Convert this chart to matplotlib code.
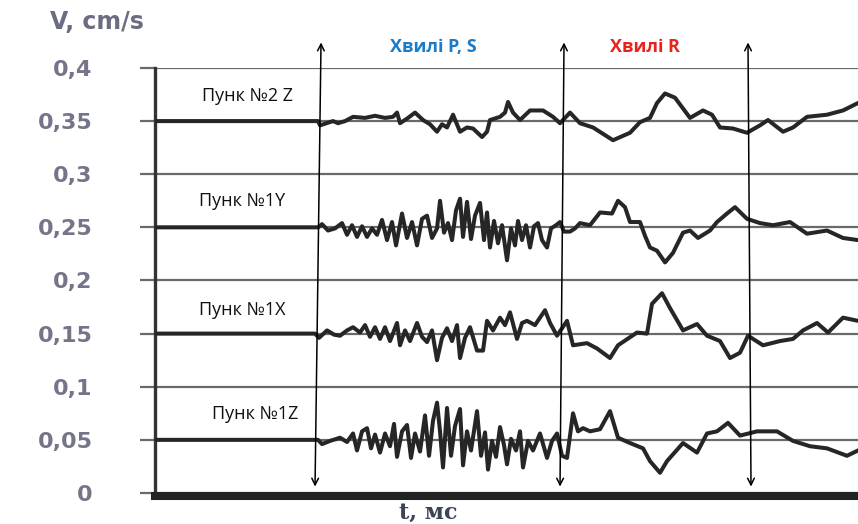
import numpy as np
import matplotlib
matplotlib.use('Agg')
from matplotlib import pyplot as plt

# time axis in ms (no tick labels on the original), velocity in cm/s
t_2z = [0, 163, 165, 178, 183, 190, 198, 210, 220, 230, 238, 242, 245, 253, 260, 268, 275, 282, 287, 292,
        298, 305, 312, 318, 327, 332, 335, 345, 350, 353, 358, 365, 375, 388, 398, 405, 415, 425, 438, 458,
        475, 485, 495, 502, 510, 520, 535, 548, 557, 565, 578, 592, 605, 613, 628, 638, 652, 672, 688, 703]
v_2z = [0.350, 0.350, 0.346, 0.350, 0.348, 0.350, 0.354, 0.353, 0.355, 0.353, 0.354, 0.358, 0.348, 0.353,
        0.358, 0.351, 0.347, 0.340, 0.347, 0.344, 0.356, 0.340, 0.344, 0.343, 0.335, 0.340, 0.351, 0.354,
        0.358, 0.368, 0.358, 0.351, 0.360, 0.360, 0.354, 0.348, 0.358, 0.348, 0.344, 0.332, 0.339, 0.349,
        0.353, 0.367, 0.376, 0.372, 0.353, 0.360, 0.356, 0.344, 0.343, 0.339, 0.346, 0.351, 0.340, 0.344,
        0.354, 0.356, 0.360, 0.367]

t_1y = [0, 163, 167, 173, 180, 187, 192, 197, 202, 207, 212, 217, 222, 227, 232, 237, 241, 247, 252, 257,
        262, 267, 272, 277, 282, 285, 289, 293, 297, 301, 305, 308, 312, 316, 320, 325, 329, 332, 335, 339,
        343, 347, 352, 356, 360, 363, 367, 371, 375, 379, 383, 387, 392, 396, 401, 405, 409, 415, 420, 425,
        435, 445, 457, 463, 470, 475, 485, 490, 495, 502, 510, 518, 528, 535, 543, 555, 562, 572, 580, 592,
        605, 618, 635, 652, 672, 688, 703]
v_1y = [0.250, 0.250, 0.253, 0.247, 0.249, 0.254, 0.243, 0.252, 0.241, 0.251, 0.241, 0.249, 0.243, 0.257,
        0.238, 0.255, 0.233, 0.263, 0.240, 0.255, 0.233, 0.258, 0.261, 0.240, 0.249, 0.275, 0.245, 0.254,
        0.238, 0.266, 0.277, 0.241, 0.274, 0.239, 0.261, 0.273, 0.238, 0.264, 0.231, 0.256, 0.235, 0.252,
        0.219, 0.249, 0.233, 0.256, 0.238, 0.252, 0.231, 0.251, 0.254, 0.238, 0.231, 0.249, 0.252, 0.255,
        0.246, 0.246, 0.249, 0.254, 0.252, 0.264, 0.263, 0.275, 0.269, 0.255, 0.255, 0.242, 0.231, 0.228,
        0.217, 0.226, 0.245, 0.247, 0.240, 0.247, 0.255, 0.263, 0.269, 0.258, 0.254, 0.252, 0.255, 0.244,
        0.247, 0.240, 0.238]

t_1x = [0, 160, 164, 172, 179, 185, 192, 198, 205, 210, 215, 220, 225, 230, 235, 242, 245, 250, 255, 262,
        267, 272, 277, 282, 287, 292, 297, 302, 305, 310, 315, 322, 328, 332, 338, 345, 350, 355, 362, 367,
        372, 380, 390, 395, 402, 407, 412, 418, 432, 442, 455, 463, 482, 492, 497, 507, 515, 528, 542, 552,
        565, 575, 585, 593, 608, 625, 638, 648, 662, 673, 688, 703]
v_1x = [0.150, 0.150, 0.146, 0.153, 0.149, 0.148, 0.153, 0.156, 0.151, 0.158, 0.147, 0.156, 0.145, 0.156,
        0.143, 0.160, 0.139, 0.153, 0.143, 0.160, 0.147, 0.142, 0.153, 0.125, 0.146, 0.155, 0.143, 0.158,
        0.127, 0.146, 0.156, 0.134, 0.134, 0.162, 0.153, 0.165, 0.158, 0.170, 0.145, 0.160, 0.162, 0.158,
        0.172, 0.160, 0.148, 0.155, 0.162, 0.139, 0.141, 0.136, 0.127, 0.139, 0.151, 0.150, 0.178, 0.188,
        0.174, 0.153, 0.159, 0.148, 0.143, 0.127, 0.132, 0.148, 0.139, 0.143, 0.145, 0.153, 0.160, 0.151,
        0.165, 0.162]

t_1z = [0, 163, 167, 175, 185, 192, 198, 202, 207, 212, 216, 220, 225, 230, 235, 239, 242, 247, 252, 256,
        260, 265, 270, 274, 278, 282, 285, 288, 292, 296, 300, 305, 308, 312, 316, 322, 326, 330, 333, 337,
        341, 345, 349, 352, 356, 361, 365, 368, 373, 378, 385, 392, 397, 402, 407, 412, 418, 423, 428, 435,
        445, 455, 463, 475, 488, 495, 505, 512, 528, 542, 552, 562, 573, 585, 602, 622, 638, 655, 672, 692,
        703]
v_1z = [0.050, 0.050, 0.046, 0.049, 0.052, 0.048, 0.056, 0.040, 0.058, 0.061, 0.042, 0.055, 0.038, 0.056,
        0.044, 0.065, 0.034, 0.058, 0.064, 0.033, 0.056, 0.039, 0.073, 0.035, 0.068, 0.085, 0.058, 0.024,
        0.080, 0.035, 0.063, 0.079, 0.026, 0.058, 0.040, 0.077, 0.035, 0.057, 0.022, 0.049, 0.034, 0.062,
        0.045, 0.027, 0.051, 0.040, 0.058, 0.024, 0.049, 0.040, 0.056, 0.033, 0.049, 0.056, 0.035, 0.033,
        0.075, 0.058, 0.061, 0.058, 0.060, 0.077, 0.052, 0.047, 0.042, 0.030, 0.019, 0.030, 0.047, 0.038,
        0.056, 0.058, 0.066, 0.054, 0.058, 0.058, 0.049, 0.044, 0.042, 0.035, 0.040]

traces = [(t_2z, v_2z), (t_1y, v_1y), (t_1x, v_1x), (t_1z, v_1z)]
station_names = ['Пунк №2 Z', 'Пунк №1Y', 'Пунк №1X', 'Пунк №1Z']
station_label_t = [92, 87, 87, 100]
station_label_v = [0.374, 0.275, 0.172, 0.074]

y_ticks = [0, 0.05, 0.1, 0.15, 0.2, 0.25, 0.3, 0.35, 0.4]
y_tick_labels = ['0', '0,05', '0,1', '0,15', '0,2', '0,25', '0,3', '0,35', '0,4']

# boundary arrows between wave groups (top / bottom ends)
arrow_t_top = [166, 409, 593]
arrow_t_bottom = [160, 405, 596]
arrow_v_top = 0.424
arrow_v_bottom = 0.006

wave_labels = ['Хвилі P, S', 'Хвилі R']
wave_label_t = [278, 490]
wave_colors = ['#1a7bc9', '#e8231c']

fig = plt.figure(figsize=(8.58, 5.24), dpi=100)
ax = fig.add_axes([0.1807, 0.0592, 0.8193, 0.8111])

grid_c = '#6a6a6a'
for tr_t, tr_v in traces:
    ax.plot(tr_t, tr_v, color='#262626', lw=2.9, solid_joinstyle='round', zorder=3)

ax.set_xlim(0, 703)
ax.set_ylim(0, 0.4)
ax.set_yticks(y_ticks)
ax.set_yticklabels(y_tick_labels, fontsize=16, fontweight='bold', color='#75758a')
ax.set_xticks([])
ax.yaxis.grid(True, color=grid_c, lw=1.6, zorder=1)
ax.tick_params(axis='y', length=11, width=1.6, color=grid_c, pad=34)

for s in ['top', 'right']:
    ax.spines[s].set_visible(False)
ax.spines['left'].set_linewidth(2.4)
ax.spines['left'].set_color('#333333')
ax.spines['bottom'].set_linewidth(5.8)
ax.spines['bottom'].set_color('#222222')
ax.spines['bottom'].set_position(('outward', 2))

for i, name in enumerate(station_names):
    ax.text(station_label_t[i], station_label_v[i], name, fontsize=13, ha='center', va='center',
            family=['Open Sans', 'DejaVu Sans'], color='#111111', zorder=4)

for i in range(len(arrow_t_top)):
    ax.annotate('', xy=(arrow_t_top[i], arrow_v_top), xytext=(arrow_t_bottom[i], arrow_v_bottom),
                arrowprops=dict(arrowstyle='<->', color='black', lw=1.1, mutation_scale=12,
                                shrinkA=0, shrinkB=0),
                annotation_clip=False, zorder=5)

for i, lab in enumerate(wave_labels):
    ax.text(wave_label_t[i], 0.4195, lab, fontsize=13, fontweight='bold', color=wave_colors[i],
            ha='center', va='center', family=['Open Sans', 'DejaVu Sans'], clip_on=False)

fig.text(50 / 858, 1 - 22 / 524, 'V, cm/s', fontsize=17, fontweight='bold', color='#6c6c80',
         ha='left', va='center')
fig.text(428 / 858, 1 - 513 / 524, 't, мс', fontsize=16, fontweight='bold', color='#3c4556',
         ha='center', va='center', family='DejaVu Serif')

fig.savefig('out.png', dpi=100)
